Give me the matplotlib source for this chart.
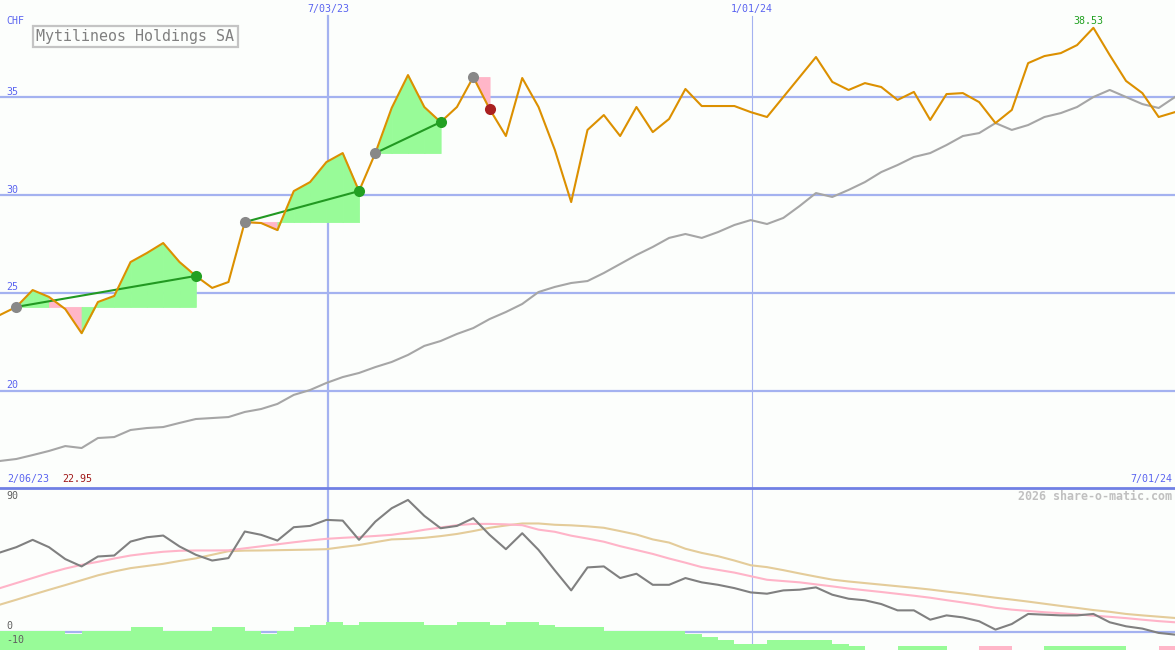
import numpy as np
import matplotlib.pyplot as plt

# weekly closes (CHF)
price = [23.88, 24.29, 25.15, 24.80, 24.18, 22.95, 24.54, 24.85, 26.58, 27.04,
         27.55, 26.58, 25.87, 25.26, 25.56, 28.62, 28.57, 28.21, 30.20, 30.66,
         31.68, 32.14, 30.20, 32.14, 34.44, 36.12, 34.49, 33.72, 34.49, 36.02,
         34.39, 33.01, 35.97, 34.49, 32.30, 29.64, 33.32, 34.08, 33.01, 34.49,
         33.21, 33.88, 35.41, 34.54, 34.54, 34.54, 34.23, 33.98, 35.00, 36.02,
         37.04, 35.77, 35.36, 35.71, 35.51, 34.85, 35.26, 33.83, 35.15, 35.20,
         34.74, 33.67, 34.34, 36.73, 37.09, 37.24, 37.65, 38.53, 37.14, 35.82,
         35.20, 33.98, 34.23]

# long moving average
ma_long = [16.43, 16.53, 16.73, 16.94, 17.19, 17.09, 17.60, 17.65, 18.01, 18.11,
           18.16, 18.37, 18.57, 18.62, 18.67, 18.93, 19.08, 19.34, 19.80, 20.05,
           20.41, 20.71, 20.92, 21.22, 21.48, 21.84, 22.30, 22.55, 22.91, 23.21,
           23.67, 24.03, 24.44, 25.05, 25.31, 25.51, 25.61, 26.02, 26.48, 26.94,
           27.35, 27.81, 28.01, 27.81, 28.11, 28.47, 28.72, 28.52, 28.83, 29.44,
           30.10, 29.90, 30.26, 30.66, 31.17, 31.53, 31.94, 32.14, 32.55, 33.01,
           33.16, 33.67, 33.32, 33.57, 33.98, 34.18, 34.49, 35.00, 35.36, 35.00,
           34.64, 34.44, 35.00]

# lower panel oscillator and its two smoothings
osc = [55.1, 58.8, 63.9, 58.8, 50.5, 45.4, 52.3, 53.0, 62.7, 65.7,
       66.9, 59.3, 53.5, 49.5, 51.2, 69.7, 67.4, 63.4, 72.7, 73.6,
       77.8, 77.3, 63.9, 76.6, 85.9, 91.7, 80.6, 72.0, 73.6, 79.0,
       67.4, 57.4, 68.5, 56.9, 42.6, 28.7, 44.7, 45.4, 37.3, 40.3,
       32.6, 32.6, 37.3, 34.3, 32.6, 30.3, 27.3, 26.4, 28.7, 29.2,
       30.8, 25.7, 22.9, 21.8, 19.2, 14.8, 14.8, 8.3, 11.3, 9.9,
       7.2, 1.4, 5.3, 12.3, 11.8, 11.3, 11.3, 12.3, 6.5, 3.7,
       2.1, -0.9, -2.1]

osc_fast = [30.3, 33.8, 37.3, 40.8, 43.9, 46.5, 48.6, 50.9, 53.0, 54.4,
            55.6, 56.3, 56.5, 56.5, 56.6, 58.0, 59.4, 60.8, 62.2, 63.5,
            64.6, 65.3, 65.9, 66.6, 67.4, 69.0, 70.9, 72.5, 74.1, 75.0,
            75.0, 74.7, 74.1, 71.0, 69.5, 66.8, 64.8, 62.6, 59.5, 56.8,
            54.1, 50.9, 48.0, 44.9, 43.0, 41.1, 38.6, 36.1, 35.2, 34.3,
            32.9, 31.5, 30.0, 28.8, 27.6, 26.3, 25.0, 23.6, 21.9, 20.3,
            18.6, 16.6, 15.3, 14.4, 13.5, 12.8, 12.0, 11.1, 10.3, 9.4,
            8.3, 7.3, 6.5]

osc_slow = [18.8, 22.2, 25.7, 29.1, 32.4, 35.8, 39.2, 41.9, 44.2, 45.7,
            47.2, 49.2, 51.0, 53.5, 56.0, 56.4, 56.5, 56.7, 56.9, 57.1,
            57.4, 58.9, 60.3, 62.3, 64.2, 64.6, 65.3, 66.5, 68.0, 70.0,
            72.3, 73.9, 75.3, 75.3, 74.4, 74.0, 73.3, 72.3, 70.0, 67.6,
            64.2, 62.0, 57.7, 54.8, 52.5, 49.5, 46.2, 44.9, 42.8, 40.5,
            38.3, 36.2, 34.9, 33.8, 32.7, 31.6, 30.5, 29.3, 27.9, 26.6,
            25.1, 23.6, 22.3, 20.9, 19.4, 17.9, 16.5, 15.0, 13.8, 12.3,
            11.3, 10.4, 9.5]

nan = np.nan
# weekly histogram steps (one per interval between weeks)
hist = [0.7, 0.7, 0.7, 0.7, -2, 0.7, 0.7, 0.7, 3, 3,
        0.7, 0.7, 0.7, 3, 3, 0.7, -2, 0.7, 3, 4.9,
        7, 4.9, 7, 7, 7, 7, 4.9, 4.9, 7, 7,
        4.9, 7, 7, 4.9, 3, 3, 3, 0.7, 0.7, 0.7,
        0.7, 0.7, -2, -4, -6, -8.3, -8.3, -6, -6, -6,
        -6, -8.3, -10.2, nan, nan, -10.2, -10.2, -10.2, nan, nan,
        -10.2, -10.2, nan, nan, -10.2, -10.2, -10.2, -10.2, -10.2, nan,
        nan, -10.2]
hist_pink = [60, 61, 71]

# (entry week, exit week)
trades = [(1, 12), (15, 22), (23, 27), (29, 30)]

price_levels = [20, 25, 30, 35]
osc_labels = [90, 0, -10]
mark_pos = [20.1, 46.08]
mark_text = ['7/03/23', '1/01/24']
start_date, end_date = '2/06/23', '7/01/24'
title = 'Mytilineos Holdings SA'

BG = '#fcfefc'
GRID = '#a4b2f0'
SEP = '#7080e4'
BLUE = '#5a64f0'
GREEN_FILL = '#98fb98'
PINK_FILL = '#ffb6c8'
MONO = 'DejaVu Sans Mono'

W, H = 1175, 650
fig = plt.figure(figsize=(W / 100, H / 100), dpi=100, facecolor=BG)
ax = fig.add_axes([0, 162 / H, 1, 488 / H])
axb = fig.add_axes([0, 0, 1, 162 / H])
for a in (ax, axb):
    a.set_facecolor(BG)
    a.set_xticks([])
    a.set_yticks([])
    for s in a.spines.values():
        s.set_visible(False)
    a.set_xlim(0, len(price) - 1)

x = np.arange(len(price))
p = np.array(price)

# upper panel
ax.set_ylim(15.05, 39.95)
for lv in price_levels:
    ax.axhline(lv, color=GRID, lw=1.6, zorder=1)
    ax.annotate(str(lv), xy=(0, lv), xycoords=('axes fraction', 'data'),
                xytext=(4.3, 1.8), textcoords='offset points', va='baseline',
                color=BLUE, fontsize=7.2, family=MONO)
for pos, lab, lw in zip(mark_pos, mark_text, [1.6, 0.8]):
    ax.axvline(pos, ymax=1 - 16 / 488, color=GRID, lw=lw, zorder=1)
    axb.axvline(pos, color=GRID, lw=lw, zorder=1)
    ax.annotate(lab, xy=(pos, 1), xycoords=('data', 'axes fraction'),
                xytext=(0, -6.8), textcoords='offset points', ha='center',
                va='center', color=BLUE, fontsize=7.2, family=MONO)

for ie, ix in trades:
    lvl = p[ie]
    for k in range(ie, ix):
        col = GREEN_FILL if p[k + 1] >= lvl else PINK_FILL
        ax.fill_between(x[k:k + 2], p[k:k + 2], lvl, facecolor=col,
                        edgecolor=col, lw=0.6, zorder=2)
    if p[ix] > lvl:
        ax.plot([ie, ix], [p[ie], p[ix]], color='#229922', lw=1.5, zorder=4)

ax.plot(x, ma_long, color='#a6a6a6', lw=1.5, zorder=3)
ax.plot(x, price, color='#dc9000', lw=1.5, zorder=5)
for ie, ix in trades:
    ax.plot(ie, p[ie], 'o', color='#888888', ms=8, mew=0, zorder=6)
    ax.plot(ix, p[ix], 'o', color='#22a022' if p[ix] > p[ie] else '#aa2020',
            ms=8, mew=0, zorder=6)

imax = int(np.argmax(p))
ax.annotate(f'{p.max():.2f}', xy=(imax, p.max()), xytext=(-4, 3),
            textcoords='offset points', ha='center', va='baseline',
            color='#20a020', fontsize=7.2, family=MONO)

fig.text(6 / W, 1 - 21 / H, 'CHF', color=BLUE, fontsize=7.2, family=MONO, va='center')
fig.text(135.5 / W, 1 - 36.5 / H, title, color='#808080', fontsize=10.8, family=MONO,
         ha='center', va='center',
         bbox=dict(boxstyle='square,pad=0.22', fc='none', ec='#c4c4c4', lw=1.6))
fig.text(7 / W, 1 - 479 / H, start_date, color=BLUE, fontsize=7.2, family=MONO, va='center')
fig.text(62 / W, 1 - 479 / H, f'{p.min():.2f}', color='#a01818', fontsize=7.2,
         family=MONO, va='center')
fig.text(1172 / W, 1 - 479 / H, end_date, color=BLUE, fontsize=7.2, family=MONO,
         va='center', ha='right')

# lower panel
axb.set_ylim(-12.8, 100)
axb.spines['top'].set_visible(True)
axb.spines['top'].set_color(SEP)
axb.spines['top'].set_linewidth(2)
axb.axhline(0, color=GRID, lw=1.6, zorder=1)
hv = np.array(hist)
cols = [PINK_FILL if i in hist_pink else GREEN_FILL for i in range(len(hv))]
axb.bar(x[:-1], hv + 12.8, bottom=-12.8, width=1, align='edge', color=cols,
        lw=0, antialiased=False, zorder=2)
axb.plot(x, osc_slow, color='#e4cc9a', lw=1.5, zorder=3)
axb.plot(x, osc_fast, color='#ffb4c8', lw=1.5, zorder=3)
axb.plot(x, osc, color='#808080', lw=1.5, zorder=4)
for lv in osc_labels:
    axb.annotate(str(lv), xy=(0, lv), xycoords=('axes fraction', 'data'),
                 xytext=(4.3, 2.2), textcoords='offset points', va='baseline',
                 color='#606060', fontsize=7.2, family=MONO, zorder=5)
fig.text(1172 / W, 1 - 496 / H, '2026 share-o-matic.com', color='#c0c0c0',
         fontsize=8.4, family=MONO, fontweight='bold', ha='right', va='center')

fig.savefig('out.png', dpi=100, facecolor=BG)
